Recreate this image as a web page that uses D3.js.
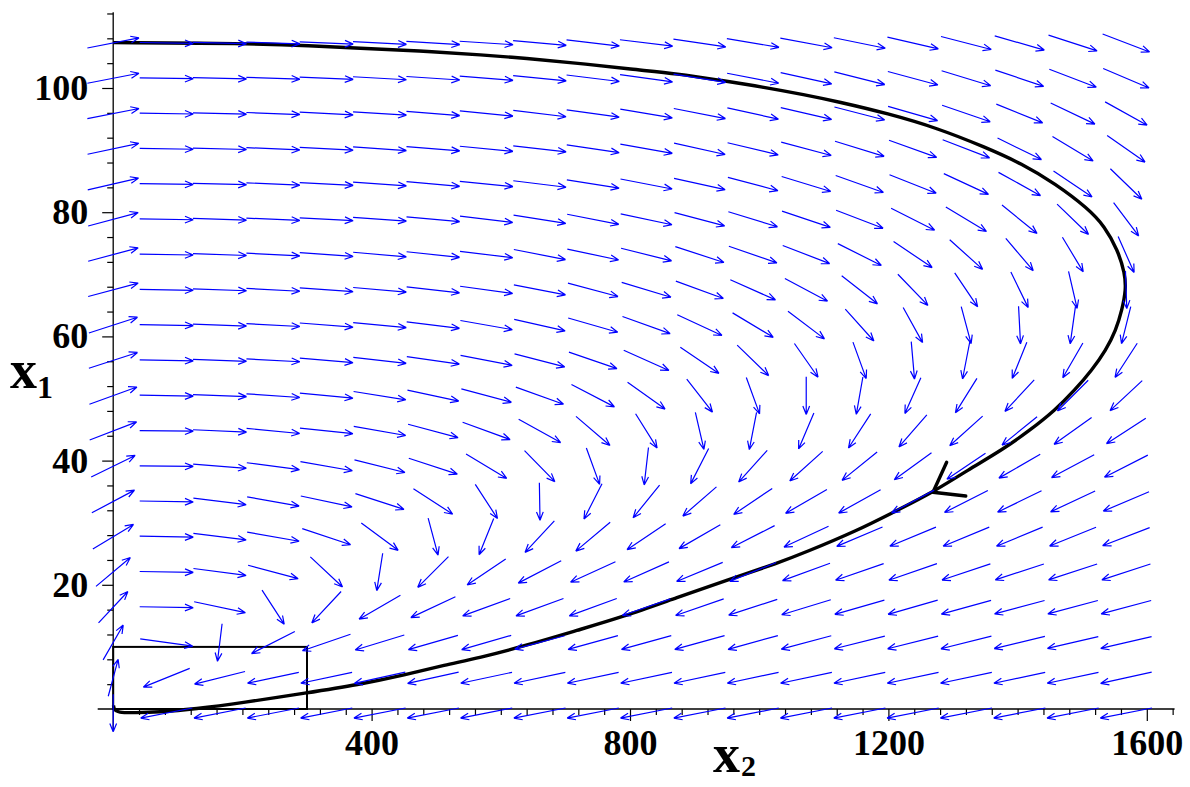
<!DOCTYPE html>
<html><head><meta charset="utf-8">
<script src="https://cdn.jsdelivr.net/npm/d3@7"></script>
<style>html,body{margin:0;padding:0;background:#fff;}svg{display:block;}</style>
</head><body>
<script>
// ---------- data ----------
const x2Grid = [0, 82.5, 165, 247.6, 330.1, 412.6, 495.2, 577.7, 660.2, 742.7, 825.3, 907.8, 990.3, 1072.8, 1155.4, 1237.9, 1320.4, 1403, 1485.5, 1568];
const x1Grid = [-0.65, 5.03, 10.71, 16.39, 22.07, 27.75, 33.42, 39.1, 44.78, 50.46, 56.14, 61.82, 67.5, 73.18, 78.86, 84.54, 90.21, 95.89, 101.57, 107.25];
// direction of each arrow (degrees on screen, counter-clockwise from +x2), one row per x1Grid value (bottom first)
const fieldAngles = [
 [-90,-169,-169,-169,-169,-169,-169,-169,-169,-169,-169,-169,-169,-169,-169,-169,-169,-169,-169,-169],
 [75,-158,-166,-168,-168,-167.5,-167.5,-168,-168,-168,-168,-168,-168,-168,-168,-168,-168,-168,-168,-167.5],
 [60,-8,-97,-153,-161,-163,-164,-164,-165,-164.5,-164.5,-164.5,-164.5,-165,-166,-166,-166,-166.5,-167,-167],
 [47,-1,-12,-57,-133,-150,-155,-160,-160,-160,-161,-161,-162,-163,-164,-164,-164.5,-165,-165,-165],
 [40,-1,-7.5,-15,-43,-99,-135,-146,-152.5,-155.5,-156,-157.5,-158,-160,-161,-161,-161.5,-162,-162,-162],
 [31,-1,-7,-10,-18.5,-36.5,-75,-112,-133,-140,-146,-150,-153,-155,-157,-157.5,-157.5,-157.5,-158,-159],
 [28,-1,-7,-10,-12,-18,-33,-57,-89,-117,-129,-139,-146,-150,-151,-152,-153,-154,-155,-157],
 [26,-0.5,-4.5,-7.5,-10,-14,-18,-31,-45.6,-70,-96.5,-117,-132,-138,-141,-144,-146,-150,-152,-153],
 [21,-0.5,-2.5,-5.5,-6,-10,-15,-20,-29,-40.5,-58,-77,-101,-113,-123,-131,-138,-141,-144.5,-147],
 [20,-1,-2,-4,-5.5,-9,-12,-15,-19.7,-27.5,-35.5,-52,-70,-90,-100,-114,-122,-133,-135,-137],
 [18,-1,-2,-3,-5,-6.5,-8,-11,-14.5,-19,-24,-34,-44,-55,-70,-85,-101,-112,-120,-123],
 [18,-1,-2,-3,-4.5,-5.5,-7,-10,-12.8,-16,-19.7,-24.8,-31,-37,-48,-61,-75,-87,-98,-104],
 [15,-1,-2,-3,-4,-5,-6.5,-7.8,-11,-15,-16.7,-20,-24,-28,-38,-46,-56,-64,-77,-88],
 [15,-1,-2,-3,-4,-5,-6,-7,-11,-12,-14,-18,-19,-21,-26.7,-34,-42,-49.6,-59,-66],
 [15,-1,-2,-2.5,-3,-4,-5,-7,-9,-11,-12,-14.7,-17,-18.5,-21,-26.7,-31,-39,-44,-53],
 [13,-1,-1.5,-2.5,-3,-4,-5,-5.5,-7,-9,-11,-12.4,-15,-17,-19.6,-21.5,-24.8,-29,-34,-44],
 [12,-1,-1.5,-2.5,-3,-4,-4.5,-5.5,-6.5,-8.4,-10,-12.5,-13.5,-15,-17,-19.7,-21,-26,-31,-35],
 [11,-1,-1.5,-2.2,-3,-3.5,-4.5,-5.5,-7,-8,-9.6,-11,-12.4,-13,-14.5,-16,-19,-22,-25.5,-29],
 [11,-1,-1.5,-2,-2.5,-3.2,-3.8,-4.5,-5.5,-7,-8,-9,-11,-12.5,-14,-15,-17,-18.5,-21,-23],
 [11,-1,-1.5,-2,-2.5,-3,-3.5,-3.7,-5,-6.6,-7,-8.5,-9.5,-10.5,-11.5,-13,-14.5,-16,-18,-21]
];
// trajectory (x2, x1)
const trajX2 = [0,204,308,379,472,575,637,719,803,874,942,1004,1071,1122,1199,1277,1349,1407,1458,1509,1535,1555,1566,1567.8,1561.6,1552.3,1536.8,1515.2,1488.9,1457.9,1419.2,1375.9,1323.2,1269,1206,1153,1071,1029,952,874,788,719,642,565,514,452,379,300,200,127,69,34,7,1,0.5];
const trajX1 = [107.3,107.2,106.8,106.4,106.0,105.3,104.8,104.0,103.0,102.3,101.2,100.2,98.9,97.8,95.9,93.5,90.5,87.8,84.6,80.6,77.7,73.9,70.2,67.5,64.3,61.0,57.8,54.6,51.4,48.1,44.9,41.7,38.5,34.9,31.6,28.8,25.2,23.5,20.8,18.0,14.8,12.7,10.3,8.2,7.1,5.5,3.9,2.6,1.0,0.0,-0.5,-0.6,-0.6,0,0.6];
const trajArrowIndex = 33;
// box
const boxX2 = [0, 300];
const boxX1 = [0, 10];
// ticks
const xMajorTicks = [400, 800, 1200, 1600];
const yMajorTicks = [20, 40, 60, 80, 100];
const xAxisExtent = [-24, 1643];
const yAxisExtent = [-3.6, 112.2];

// ---------- drawing ----------
const W = 1190, H = 787;
const svg = d3.select("body").append("svg").attr("width", W).attr("height", H)
  .style("background", "#fff");

const x = d3.scaleLinear().domain([0, 1600]).range([113.2, 113.2 + 1600 * 0.646]);
const y = d3.scaleLinear().domain([0, 100]).range([709, 88]);

const fontFam = "'Liberation Serif','Times New Roman',serif";

// axis lines
svg.append("line").attr("x1", x(xAxisExtent[0])).attr("x2", x(xAxisExtent[1]))
  .attr("y1", y(0)).attr("y2", y(0)).attr("stroke", "#000").attr("stroke-width", 1.3);
svg.append("line").attr("x1", x(0)).attr("x2", x(0))
  .attr("y1", y(yAxisExtent[0])).attr("y2", y(yAxisExtent[1])).attr("stroke", "#000").attr("stroke-width", 1.3);

// x ticks
const xMinor = d3.range(40, 1641, 40).filter(v => !xMajorTicks.includes(v));
const xAxisMinor = d3.axisBottom(x).tickValues(xMinor).tickSize(6).tickFormat("");
const xAxisMajor = d3.axisBottom(x).tickValues(xMajorTicks).tickSize(12).tickPadding(8).tickFormat(d3.format("d"));
const gxm = svg.append("g").attr("transform", `translate(0,${y(0)})`).call(xAxisMinor);
const gxM = svg.append("g").attr("transform", `translate(0,${y(0)})`).call(xAxisMajor);
[gxm, gxM].forEach(g => { g.select(".domain").remove(); g.selectAll("line").attr("stroke", "#000").attr("stroke-width", 1.2); });
gxM.selectAll("text").attr("font-family", fontFam).attr("font-weight", "bold").attr("font-size", 36).attr("fill", "#000");

// y ticks
const yMinor = d3.range(4, 113, 4).filter(v => !yMajorTicks.includes(v));
const yAxisMinor = d3.axisLeft(y).tickValues(yMinor).tickSize(6).tickFormat("");
const yAxisMajor = d3.axisLeft(y).tickValues(yMajorTicks).tickSize(11).tickPadding(14).tickFormat(d3.format("d"));
const gym = svg.append("g").attr("transform", `translate(${x(0)},0)`).call(yAxisMinor);
const gyM = svg.append("g").attr("transform", `translate(${x(0)},0)`).call(yAxisMajor);
[gym, gyM].forEach(g => { g.select(".domain").remove(); g.selectAll("line").attr("stroke", "#000").attr("stroke-width", 1.2); });
gyM.selectAll("text").attr("font-family", fontFam).attr("font-weight", "bold").attr("font-size", 36).attr("fill", "#000");

// box
svg.append("rect").attr("x", x(boxX2[0])).attr("y", y(boxX1[1]))
  .attr("width", x(boxX2[1]) - x(boxX2[0])).attr("height", y(boxX1[0]) - y(boxX1[1]))
  .attr("fill", "none").attr("stroke", "#000").attr("stroke-width", 2);

// trajectory
const traj = trajX2.map((v, i) => [v, trajX1[i]]);
svg.append("path").datum(traj)
  .attr("d", d3.line().x(d => x(d[0])).y(d => y(d[1])).curve(d3.curveBasis))
  .attr("fill", "none").attr("stroke", "#000").attr("stroke-width", 3.4).attr("stroke-linejoin", "round");

// trajectory arrowhead
(function () {
  const p = traj[trajArrowIndex], a = traj[trajArrowIndex - 1], b = traj[trajArrowIndex + 1];
  const px = x(p[0]), py = y(p[1]);
  const dx = x(a[0]) - x(b[0]), dy = y(a[1]) - y(b[1]);
  const back = Math.atan2(dy, dx);
  const len = 33, spread = 36 * Math.PI / 180;
  const pth = d3.path();
  [back - spread, back + spread].forEach(ang => {
    pth.moveTo(px, py); pth.lineTo(px + len * Math.cos(ang), py + len * Math.sin(ang));
  });
  svg.append("path").attr("d", pth.toString()).attr("stroke", "#000").attr("stroke-width", 3.4)
    .attr("fill", "none").attr("stroke-linecap", "round");
})();

// direction field
const cells = [];
fieldAngles.forEach((row, i) => row.forEach((ang, j) => cells.push({ x2: x2Grid[j], x1: x1Grid[i], ang })));
const ax = 26.8, ay = 18.8, headLen = 9, headAng = 22 * Math.PI / 180;
svg.append("g").selectAll("path").data(cells).join("path")
  .attr("d", d => {
    const t = d.ang * Math.PI / 180, c = Math.cos(t), s = Math.sin(t);
    const L = 1 / Math.sqrt((c / ax) ** 2 + (s / ay) ** 2);
    const cx = x(d.x2), cy = y(d.x1);
    const ux = c, uy = -s;
    const tx = cx - ux * L, ty = cy - uy * L, hx = cx + ux * L, hy = cy + uy * L;
    const back = Math.atan2(-uy, -ux);
    const p = d3.path();
    p.moveTo(tx, ty); p.lineTo(hx, hy);
    [back - headAng, back + headAng].forEach(a => { p.moveTo(hx, hy); p.lineTo(hx + headLen * Math.cos(a), hy + headLen * Math.sin(a)); });
    return p.toString();
  })
  .attr("fill", "none").attr("stroke", "#0000ff").attr("stroke-width", 1.2);

// axis titles
const t1 = svg.append("text").attr("x", 10).attr("y", 388).attr("font-family", fontFam)
  .attr("font-weight", "bold").attr("font-size", 54).attr("fill", "#000");
t1.append("tspan").text("x");
t1.append("tspan").attr("dy", 10).attr("font-size", 32).text("1");
const t2 = svg.append("text").attr("x", 713).attr("y", 772).attr("font-family", fontFam)
  .attr("font-weight", "bold").attr("font-size", 54).attr("fill", "#000");
t2.append("tspan").text("x");
t2.append("tspan").attr("dy", 4).attr("dx", 1).attr("font-size", 30).text("2");
</script>
</body></html>
